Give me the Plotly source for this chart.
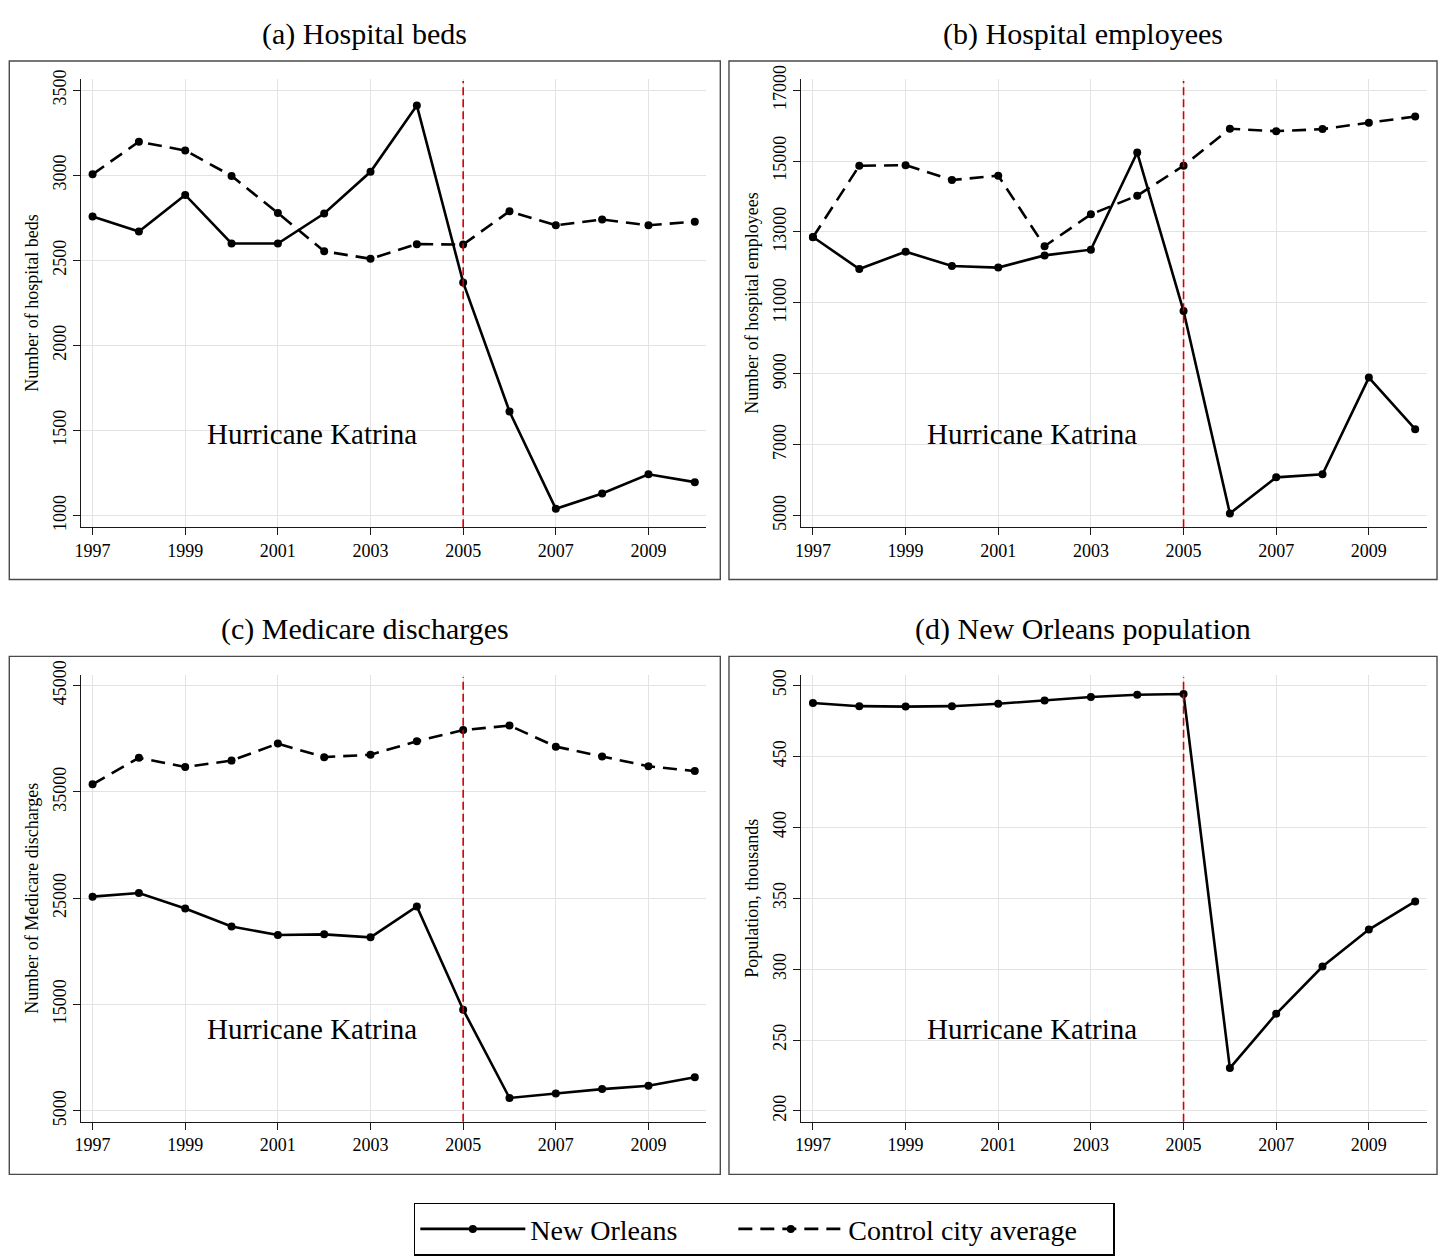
import plotly.graph_objects as go

# ---------------- data ----------------
years = list(range(1997, 2011))
xtick_vals = [1997, 1999, 2001, 2003, 2005, 2007, 2009]

beds_no = [2758, 2669, 2884, 2599, 2599, 2775, 3020, 3410, 2370, 1612, 1040, 1130, 1243, 1197]
beds_ctrl = [3005, 3197, 3145, 2996, 2778, 2553, 2509, 2595, 2593, 2788, 2706, 2740, 2706, 2727]

emp_no = [12857, 11956, 12444, 12042, 11995, 12340, 12501, 15240, 10770, 5065, 6081, 6167, 8895, 7440]
emp_ctrl = [12850, 14867, 14884, 14465, 14588, 12599, 13497, 14023, 14867, 15909, 15843, 15900, 16081, 16254]

disc_no = [25147, 25492, 24026, 22331, 21536, 21600, 21316, 24218, 14516, 6213, 6625, 7046, 7362, 8157]
disc_ctrl = [35710, 38200, 37338, 37942, 39541, 38267, 38488, 39761, 40815, 41236, 39254, 38325, 37405, 36955]

pop_no = [487.6, 485.4, 485.1, 485.4, 487.1, 489.4, 491.9, 493.5, 494.0, 230.2, 268.5, 301.8, 327.9, 347.7]

titles = ["(a) Hospital beds", "(b) Hospital employees",
          "(c) Medicare discharges", "(d) New Orleans population"]
ytitles = ["Number of hospital beds", "Number of hospital employees",
           "Number of Medicare discharges", "Population, thousands"]
ytick_sets = [[1000, 1500, 2000, 2500, 3000, 3500],
              [5000, 7000, 9000, 11000, 13000, 15000, 17000],
              [5000, 15000, 25000, 35000, 45000],
              [200, 250, 300, 350, 400, 450, 500]]
yranges = [[932, 3566], [4675, 17317], [3980, 46020], [192.4, 507.6]]
katrina_xy = [(2001.73, 1482), (2001.73, 7315), (2001.73, 12694), (2001.73, 257.7)]
event_year = 2005

series_no = [beds_no, emp_no, disc_no, pop_no]
series_ctrl = [beds_ctrl, emp_ctrl, disc_ctrl, None]

# ---------------- layout geometry (pixels) ----------------
W, H = 1440, 1256


def fx(x):
    return x / W


def fy(y):
    return 1 - y / H


plot_boxes = [  # (x0, x1, ytop, ybottom) of plotting areas
    (75.3, 703.3, 65.8, 520.7),
    (798.7, 1426.7, 65.8, 520.7),
    (75.3, 703.3, 670.3, 1123.8),
    (798.7, 1426.7, 670.3, 1123.8),
]
panel_frames = [
    (3.3, 717.3, 47.7, 573.7),
    (726.0, 1437.0, 47.7, 573.7),
    (3.3, 717.3, 651.7, 1177.2),
    (726.0, 1437.0, 651.7, 1177.2),
]

SERIF = "Liberation Serif, Times New Roman, serif"
AXIS_COLOR = "#1a1a1a"
GRID_COLOR = "#e3e3e3"

fig = go.Figure()

for i in range(4):
    sfx = "" if i == 0 else str(i + 1)
    xa, ya = "x" + sfx, "y" + sfx
    if series_ctrl[i] is not None:
        fig.add_trace(go.Scatter(
            x=years, y=series_ctrl[i], xaxis=xa, yaxis=ya,
            mode="lines+markers", name="Control city average",
            line=dict(color="black", width=2.6, dash="14px,8px"),
            marker=dict(color="black", size=8),
            showlegend=(i == 0), legendrank=2, legendwidth=260))
    fig.add_trace(go.Scatter(
        x=years, y=series_no[i], xaxis=xa, yaxis=ya,
        mode="lines+markers", name="New Orleans",
        line=dict(color="black", width=2.6),
        marker=dict(color="black", size=8),
        showlegend=(i == 0), legendrank=1, legendwidth=198))

layout = dict(
    width=W, height=H,
    margin=dict(l=0, r=0, t=0, b=0),
    paper_bgcolor="white", plot_bgcolor="white",
    font=dict(family=SERIF, color="black"),
    showlegend=True,
    legend=dict(
        orientation="h", x=fx(761.5), xanchor="center", y=fy(1206), yanchor="top",
        bordercolor="black", borderwidth=1.5, bgcolor="white",
        font=dict(family=SERIF, size=28, color="black"),
        itemwidth=105, traceorder="normal",
    ),
)

shapes = []
annotations = []
for i in range(4):
    sfx = "" if i == 0 else str(i + 1)
    x0, x1, yt, yb = plot_boxes[i]
    layout["xaxis" + sfx] = dict(
        domain=[fx(x0), fx(x1)], anchor="y" + sfx,
        range=[1996.75, 2010.25], tickvals=xtick_vals, tickformat="d",
        showgrid=True, gridcolor=GRID_COLOR, gridwidth=1,
        showline=True, linecolor=AXIS_COLOR, linewidth=1.3,
        ticks="outside", ticklen=7, tickwidth=1.3, tickcolor=AXIS_COLOR,
        tickfont=dict(family=SERIF, size=18, color="black"),
        zeroline=False,
    )
    layout["yaxis" + sfx] = dict(
        domain=[fy(yb), fy(yt)], anchor="x" + sfx,
        range=yranges[i], tickvals=ytick_sets[i], tickformat="d", tickangle=-90,
        showgrid=True, gridcolor=GRID_COLOR, gridwidth=1,
        showline=True, linecolor=AXIS_COLOR, linewidth=1.3,
        ticks="outside", ticklen=7, tickwidth=1.3, tickcolor=AXIS_COLOR,
        tickfont=dict(family=SERIF, size=18, color="black"),
        zeroline=False,
        title=dict(text=ytitles[i], font=dict(family=SERIF, size=18, color="black"), standoff=6),
    )
    # event line
    shapes.append(dict(type="line", xref="x" + sfx, yref="y" + sfx + " domain",
                       x0=event_year, x1=event_year, y0=0, y1=0.995,
                       line=dict(color="rgb(210,0,0)", width=1.6, dash="8px,4px"),
                       layer="above"))
    # panel frame
    px0, px1, pyt, pyb = panel_frames[i]
    shapes.append(dict(type="rect", xref="paper", yref="paper",
                       x0=fx(px0), x1=fx(px1), y0=fy(pyb), y1=fy(pyt),
                       line=dict(color="#4a4a4a", width=1.4), layer="below"))
    # panel title
    annotations.append(dict(text=titles[i], xref="paper", yref="paper",
                            x=fx((px0 + px1) / 2), y=fy(pyt - 27.5),
                            xanchor="center", yanchor="middle", showarrow=False,
                            font=dict(family=SERIF, size=30, color="black")))
    # Katrina label
    kx, ky = katrina_xy[i]
    annotations.append(dict(text="Hurricane Katrina", xref="x" + sfx, yref="y" + sfx,
                            x=kx, y=ky, xanchor="center", yanchor="middle", showarrow=False,
                            font=dict(family=SERIF, size=29, color="black")))

layout["shapes"] = shapes
layout["annotations"] = annotations
fig.update_layout(**layout)

fig.write_html("out.html",
               config={"displayModeBar": False},
               post_script="document.body.style.margin='0';document.body.style.overflow='hidden';")
